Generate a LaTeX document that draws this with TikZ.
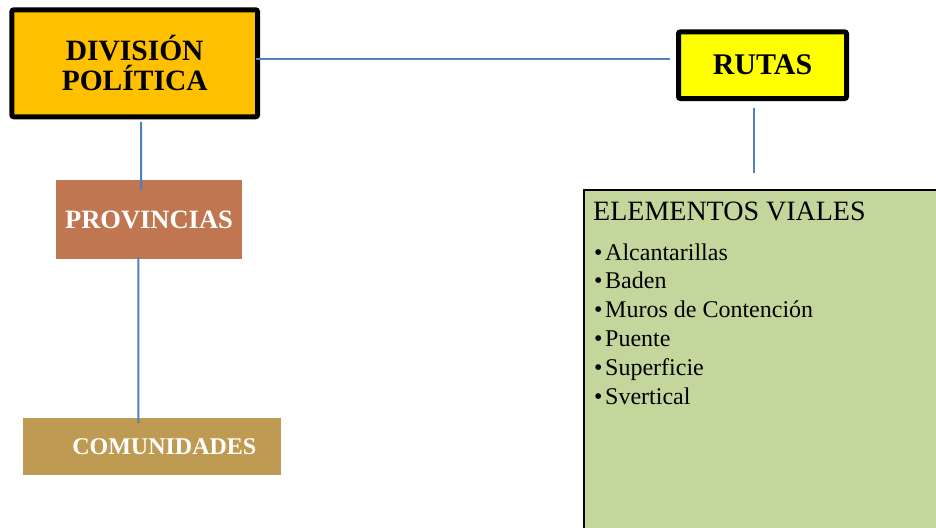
\documentclass[tikz,border=0pt]{standalone}
\usepackage{fontspec}
\setmainfont{Liberation Serif}
\usetikzlibrary{calc}
\definecolor{divfill}{HTML}{FFC000}
\definecolor{rutfill}{HTML}{FFFF00}
\definecolor{provfill}{HTML}{C07650}
\definecolor{comfill}{HTML}{BF9A52}
\definecolor{elemfill}{HTML}{C3D69B}
\definecolor{linkcol}{HTML}{4F81BD}
\tikzset{
  headbox/.style={draw=black, line width=5pt, rounded corners=2pt, inner sep=0pt, outer sep=0pt, align=center, font=\fontsize{29.5}{30}\selectfont\bfseries},
  plainbox/.style={inner sep=0pt, outer sep=0pt, text=white},
  link/.style={draw=linkcol, line width=2pt},
  itemtxt/.style={anchor=base west, inner sep=0pt, font=\fontsize{24}{28}\selectfont},
}
\begin{document}
\begin{tikzpicture}[x=1pt,y=1pt]
\useasboundingbox (0,0) rectangle (936,-527);
\fill[white] (0,0) rectangle (936,-527);
% boxes
\node[headbox, fill=divfill, minimum width=245.7pt, minimum height=107pt] (div) at (134.7,-63.3) {DIVISIÓN\\POLÍTICA};
\node[headbox, fill=rutfill, minimum width=168pt, minimum height=66.7pt, font=\fontsize{30}{30}\selectfont\bfseries] (rut) at (762.5,-65.2) {RUTAS};
\node[plainbox, fill=provfill, minimum width=186pt, minimum height=79pt, font=\fontsize{26.5}{28}\selectfont\bfseries] (prov) at (149,-219.5) {PROVINCIAS};
\node[plainbox, fill=comfill, minimum width=258pt, minimum height=57pt, font=\fontsize{24}{26}\selectfont\bfseries] (com) at (151.8,-446.5) {\hspace*{25pt}COMUNIDADES};
\begin{scope}
\clip (0,0) rectangle (936,-527);
\node[draw=black, line width=2pt, fill=elemfill, anchor=north west, inner sep=0pt, outer sep=0pt, minimum width=360pt, minimum height=345pt] (elem) at (584,-190) {};
\end{scope}
% texts in green box
\node[anchor=base west, inner sep=0pt, font=\fontsize{28}{30}\selectfont] (elemt) at (593,-220) {ELEMENTOS VIALES};
\foreach \t [count=\i] in {Alcantarillas,Baden,Muros de Contención,Puente,Superficie,Svertical}{
  \node[itemtxt] (b\i) at (594,{-260-28.8*(\i-1)}) {•};
  \node[itemtxt] (it\i) at (605,{-260-28.8*(\i-1)}) {\t};
}
% connectors
\draw[link] ($(div.east)+(-2,4.1)$) -- ($(rut.west)+(-9,6)$);
\draw[link] ($(div.south west)+(129.3,-5)$) -- ($(prov.north west)+(85,-10)$);
\draw[link] ($(prov.south west)+(82.3,2)$) -- ($(com.north west)+(115.6,-5)$);
\draw[link] ($(rut.south west)+(75.8,-9)$) -- ($(elem.north west)+(170.3,17)$);
\end{tikzpicture}
\end{document}
